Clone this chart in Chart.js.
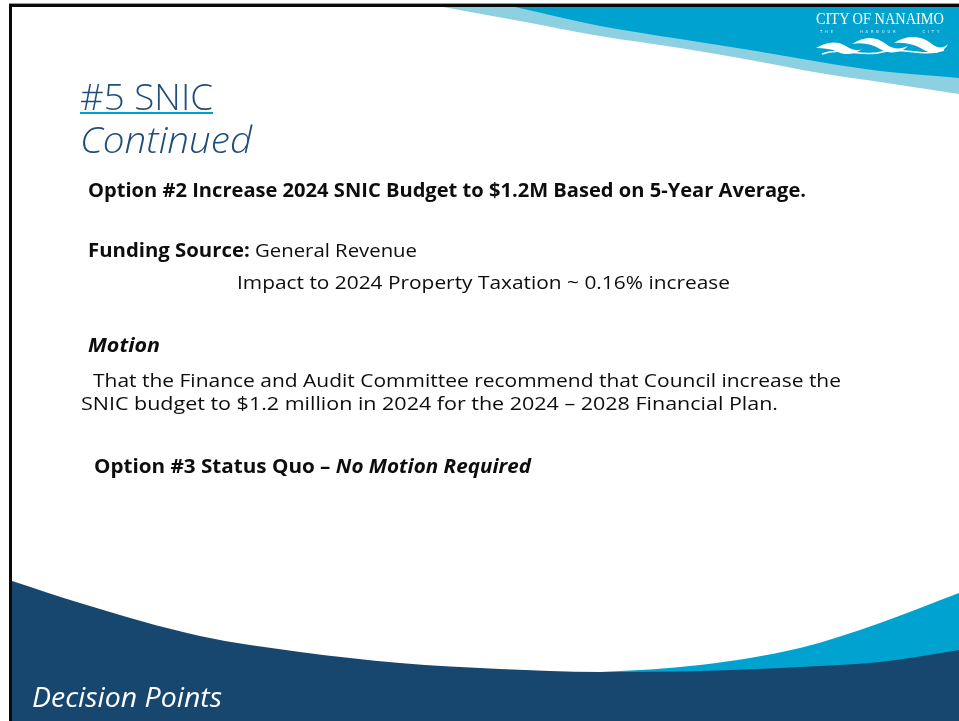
<!DOCTYPE html>
<html>
<head>
<meta charset="utf-8">
<script src="https://cdn.jsdelivr.net/npm/chart.js@4.4.1/dist/chart.umd.min.js"></script>
<style>
  html,body{margin:0;padding:0;background:#fff;}
  body{width:959px;height:721px;position:relative;overflow:hidden;font-family:"Open Sans","Noto Sans",sans-serif;}
  #slide{position:absolute;left:0;top:0;}
  .t{position:absolute;white-space:nowrap;line-height:1;transform-origin:0 0;color:#0d0d0d;}
  .b{font-weight:bold;}
  .i{font-style:italic;}
  .edge{position:absolute;background:#0a0a0a;}
</style>
</head>
<body>
<canvas id="slide" width="959" height="721"></canvas>

<div class="edge" style="left:9px;top:3px;width:950px;height:1px;background:#9a9a9a;"></div>
<div class="edge" style="left:9px;top:4px;width:950px;height:3px;"></div>
<div class="edge" style="left:9px;top:4px;width:3px;height:717px;"></div>

<!-- logo -->
<div class="t" data-w="128" style="left:816px;top:11px;font-family:'Liberation Serif',serif;font-size:16px;color:#fff;">CITY OF NANAIMO</div>
<div class="t" data-w="122" style="left:820px;top:30px;font-family:'DejaVu Sans',sans-serif;font-size:4px;letter-spacing:3px;color:#e8f6fb;">THE &nbsp;&nbsp;&nbsp;&nbsp; HARBOUR &nbsp;&nbsp;&nbsp;&nbsp; CITY</div>
<svg style="position:absolute;left:812px;top:34px;" width="140" height="26" viewBox="0 0 140 26">
  <path d="M4 14 C14 8,24 6,34 12 C40 16,46 18,52 14 C44 20,34 22,26 18 C20 15,12 14,4 14 Z" fill="#fff"/>
  <path d="M40 10 C52 2,64 2,74 10 C80 15,88 16,96 12 C88 20,76 20,68 15 C60 10,50 8,40 10 Z" fill="#fff"/>
  <path d="M82 9 C96 0,110 2,120 10 C126 15,132 14,136 10 C132 18,122 22,112 16 C104 11,94 8,82 9 Z" fill="#fff"/>
  <path d="M10 20 C30 12,50 24,70 18 C90 12,110 24,132 16" stroke="#fff" stroke-width="1.5" fill="none"/>
</svg>

<!-- title -->
<div class="t" data-w="133" style="left:80px;top:79px;font-size:36px;font-weight:300;color:#1f4e79;">#5 SNIC</div>
<div style="position:absolute;left:80px;top:112px;width:133px;height:2px;background:#00a0cc;"></div>
<div class="t i" data-w="172" style="left:80px;top:122px;font-size:36px;font-weight:300;color:#1f4e79;">Continued</div>

<!-- body -->
<div class="t b" data-w="718" style="left:88px;top:181px;font-size:19px;">Option #2 Increase 2024 SNIC Budget to $1.2M Based on 5-Year Average.</div>
<div class="t" data-w="329" style="left:88px;top:241px;font-size:19px;"><b>Funding Source:</b> General Revenue</div>
<div class="t" data-w="493" style="left:237px;top:273px;font-size:19px;">Impact to 2024 Property Taxation ~ 0.16% increase</div>
<div class="t b i" data-w="72" style="left:88px;top:336px;font-size:19px;">Motion</div>
<div class="t" data-w="748" style="left:93px;top:371px;font-size:19px;">That the Finance and Audit Committee recommend that Council increase the</div>
<div class="t" data-w="697" style="left:81px;top:394px;font-size:19px;">SNIC budget to $1.2 million in 2024 for the 2024 – 2028 Financial Plan.</div>
<div class="t b" data-w="437" style="left:94px;top:457px;font-size:19px;">Option #3 Status Quo – <i>No Motion Required</i></div>

<div class="t i" data-w="190" style="left:32px;top:683px;font-size:27px;color:#fff;z-index:2;">Decision Points</div>

<script>
// header swoosh (x positions and lower edges, px from slide top)
const headX = [443, 520, 600, 680, 750, 820, 880, 959];
const headLightY = [7, 21, 36, 48, 60, 73, 82, 94];
const headCyanX = [515, 600, 680, 750, 820, 880, 959];
const headCyanY = [7, 26, 39, 50, 62, 71, 78];

// footer swoosh (upper edges)
const footX = [12, 80, 200, 300, 400, 500, 600, 700, 800, 880, 959];
const footNavyY = [581, 603, 636, 652, 663, 669, 672, 671, 667, 662, 650];
const footCyanX = [560, 600, 700, 800, 880, 959];
const footCyanY = [673, 672, 665, 648, 623, 593];

const SLIDE_TOP = 7, BOTTOM = 721;

function pts(xs, ys){ return xs.map((x,i)=>({x:x, y:ys[i]})); }

function band(xs, ys, color, toValue){
  return {
    data: pts(xs, ys),
    backgroundColor: color,
    borderWidth: 0,
    pointRadius: 0,
    fill: { value: toValue },
    cubicInterpolationMode: 'monotone'
  };
}

new Chart(document.getElementById('slide'), {
  type: 'line',
  data: {
    datasets: [
      band(footX, footNavyY, '#17476f', BOTTOM),
      band(footCyanX, footCyanY, '#00a3cf', BOTTOM),
      band(headCyanX, headCyanY, '#00a3cf', SLIDE_TOP),
      band(headX, headLightY, '#8dd0e2', SLIDE_TOP)
    ]
  },
  options: {
    responsive: false,
    animation: false,
    devicePixelRatio: 1,
    events: [],
    layout: { padding: 0 },
    plugins: { legend: { display: false }, tooltip: { enabled: false } },
    scales: {
      x: { type: 'linear', min: 0, max: 959, display: false },
      y: { type: 'linear', min: 0, max: BOTTOM, reverse: true, display: false }
    }
  }
});

// squeeze text lines to the widths measured on the slide
document.querySelectorAll('.t[data-w]').forEach(el=>{
  const w = el.getBoundingClientRect().width;
  const target = parseFloat(el.dataset.w);
  if(w > 0) el.style.transform = 'scaleX(' + (target / w) + ')';
});
</script>
</body>
</html>
